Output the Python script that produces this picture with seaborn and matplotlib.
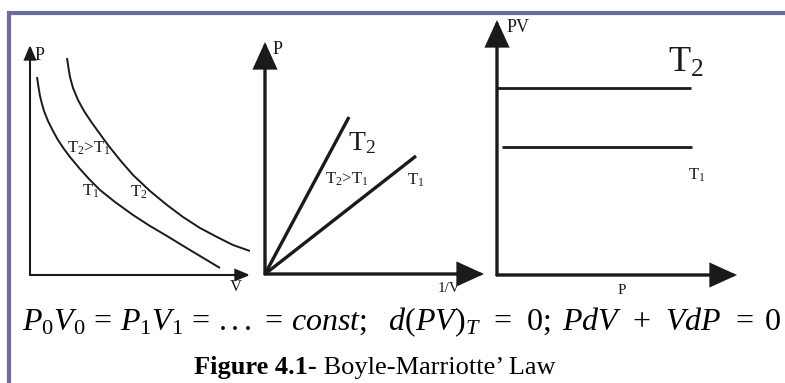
import matplotlib
matplotlib.use("Agg")
import matplotlib.pyplot as plt
from matplotlib.lines import Line2D
import seaborn as sns

# Isotherms P(V) for two temperatures (schematic units)
iso_T1_V = [0.35, 0.425, 0.5, 0.6, 0.7, 0.9, 1.15, 1.4, 1.7, 2.0, 2.5, 3.0,
            3.5, 4.25, 5.15, 6.0, 6.85, 7.75, 8.5, 9.5]
iso_T1_P = [9.9, 9.4, 8.95, 8.55, 8.2, 7.7, 7.2, 6.75, 6.3, 5.9, 5.3, 4.75,
            4.25, 3.65, 3.0, 2.45, 1.95, 1.4, 0.95, 0.35]
iso_T2_V = [1.85, 1.925, 2.0, 2.15, 2.4, 2.7, 3.1, 3.5, 3.9, 4.5, 5.15, 6.0,
            6.85, 7.65, 8.5, 9.35, 10.15, 11.0]
iso_T2_P = [10.85, 10.35, 9.9, 9.35, 8.75, 8.2, 7.6, 7.05, 6.5, 5.75, 5.0, 4.2,
            3.5, 2.9, 2.35, 1.9, 1.5, 1.2]

# P against 1/V: straight lines through the origin
inv_T1_x = [0.0, 7.55]
inv_T1_P = [0.0, 5.9]
inv_T2_x = [0.0, 4.2]
inv_T2_P = [0.0, 7.85]

# PV against P: constant products
pv_T1_P = [0.25, 9.75]
pv_T1_PV = [6.4, 6.4]
pv_T2_P = [0.0, 9.7]
pv_T2_PV = [9.35, 9.35]

formula = (r"$P_0V_0\,=\,P_1V_1\,=\,...\,=\,const;\;\;\,"
           r"d(PV)_T\;\,=\;\,0;\;PdV\;\,+\;\,VdP\;\,=\;0$")
caption_bold = "Figure 4.1-"
caption_rest = " Boyle-Marriotte\u2019 Law"

sns.set_style("white")
plt.rcParams["font.family"] = ["Liberation Serif", "DejaVu Serif"]
plt.rcParams["mathtext.fontset"] = "custom"
plt.rcParams["mathtext.rm"] = "Liberation Serif"
plt.rcParams["mathtext.it"] = "Liberation Serif:italic"
plt.rcParams["mathtext.bf"] = "Liberation Serif:bold"

INK = "#1b1a1a"
FRAME = "#6b6b9f"
W, H = 785, 383

fig = plt.figure(figsize=(W / 100, H / 100), dpi=100)
fig.patch.set_facecolor("white")


def rect(x0, y_top, x1, y_bottom):
    return [x0 / W, 1 - y_bottom / H, (x1 - x0) / W, (y_bottom - y_top) / H]


def panel(r, xmax, ymax, lw, head_len, head_w):
    ax = fig.add_axes(r)
    ax.set_xlim(0, xmax)
    ax.set_ylim(0, ymax)
    ax.set_axis_off()
    style = f"-|>,head_length={head_len},head_width={head_w}"
    for end in [(1, 0), (0, 1)]:
        ax.annotate("", xy=end, xytext=(0, 0), xycoords="axes fraction",
                    arrowprops=dict(arrowstyle=style, lw=lw, color=INK,
                                    shrinkA=0, shrinkB=0, mutation_scale=20,
                                    joinstyle="miter"))
    return ax


def curve(ax, x, y, lw):
    sns.lineplot(x=x, y=y, ax=ax, color=INK, linewidth=lw,
                 estimator=None, sort=False, legend=False,
                 solid_joinstyle="round", solid_capstyle="butt")


# frame lines
fig.add_artist(Line2D([7 / W, 1], [1 - 13 / H, 1 - 13 / H], transform=fig.transFigure,
                      color=FRAME, lw=3.0, solid_capstyle="butt"))
fig.add_artist(Line2D([9 / W, 9 / W], [0, 1 - 11 / H], transform=fig.transFigure,
                      color=FRAME, lw=3.0, solid_capstyle="butt"))

# P-V isotherms
ax1 = panel(rect(30, 45, 250, 275), 11.0, 11.5, 1.5, 0.43, 0.18)
curve(ax1, iso_T1_V, iso_T1_P, 1.4)
curve(ax1, iso_T2_V, iso_T2_P, 1.4)
ax1.text(0.25, 10.95, "P", fontsize=13, color=INK, ha="left", va="center")
ax1.text(10.0, -0.6, "V", fontsize=12, color=INK, ha="left", va="center")
ax1.text(1.85, 6.35, r"$\mathrm{T_2\!>\!T_1}$", fontsize=12, color=INK, ha="left", va="center")
ax1.text(2.6, 4.2, r"$\mathrm{T_1}$", fontsize=12, color=INK, ha="left", va="center")
ax1.text(5.0, 4.15, r"$\mathrm{T_2}$", fontsize=12, color=INK, ha="left", va="center")

# P against 1/V
ax2 = panel(rect(265, 42, 484, 274), 10.95, 11.6, 2.4, 0.79, 0.36)
curve(ax2, inv_T2_x, inv_T2_P, 2.4)
curve(ax2, inv_T1_x, inv_T1_P, 2.4)
ax2.text(0.4, 11.25, "P", fontsize=13, color=INK, ha="left", va="center")
ax2.text(8.65, -0.75, "1/V", fontsize=11, color=INK, ha="left", va="center")
ax2.text(4.15, 6.55, r"$\mathrm{T_2}$", fontsize=20, color=INK, ha="left", va="center")
ax2.text(3.0, 4.75, r"$\mathrm{T_2\!>\!T_1}$", fontsize=12, color=INK, ha="left", va="center")
ax2.text(7.1, 4.7, r"$\mathrm{T_1}$", fontsize=12, color=INK, ha="left", va="center")

# PV against P
ax3 = panel(rect(497, 20, 737, 275), 12.0, 12.75, 2.4, 0.79, 0.36)
curve(ax3, pv_T2_P, pv_T2_PV, 2.0)
curve(ax3, pv_T1_P, pv_T1_PV, 2.0)
ax3.text(0.5, 12.35, "PV", fontsize=13, color=INK, ha="left", va="center")
ax3.text(6.05, -0.75, "P", fontsize=11, color=INK, ha="left", va="center")
ax3.text(8.55, 10.6, r"$\mathrm{T_2}$", fontsize=26, color=INK, ha="left", va="center")
ax3.text(9.55, 5.0, r"$\mathrm{T_1}$", fontsize=12, color=INK, ha="left", va="center")

# equation and caption
fig.text(22 / W, 1 - 330 / H, formula, fontsize=23, color="black",
         ha="left", va="baseline")
cap = fig.text(194 / W, 1 - 374 / H, caption_bold, fontsize=19, fontweight="bold",
               color="black", ha="left", va="baseline")
fig.canvas.draw()
bb = cap.get_window_extent()
fig.text(bb.x1 / W, 1 - 374 / H, caption_rest, fontsize=19, color="black",
         ha="left", va="baseline")

fig.savefig("out.png", dpi=100, facecolor="white")
